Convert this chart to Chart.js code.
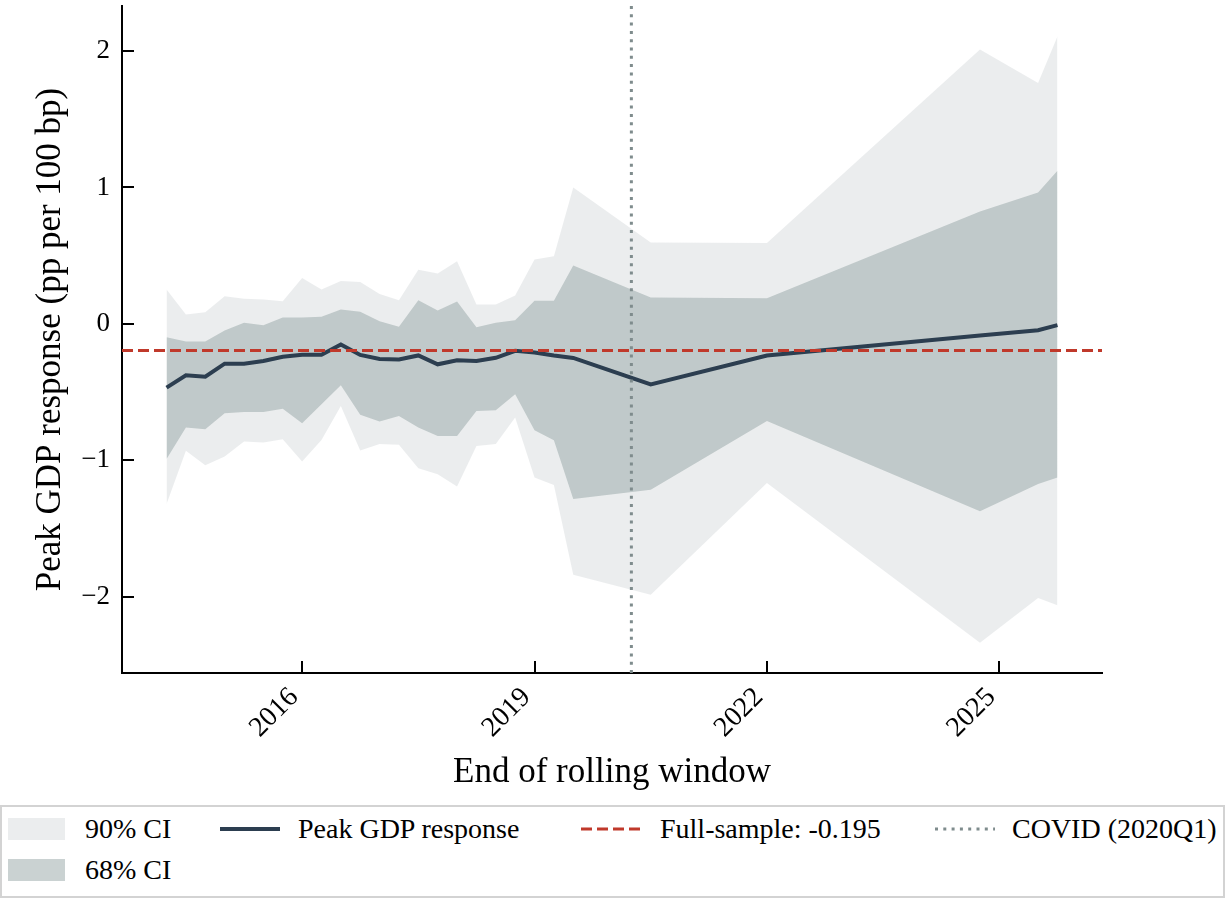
<!DOCTYPE html>
<html lang="en">
<head>
<meta charset="UTF-8">
<title>Peak GDP response over rolling windows</title>
<script src="https://cdn.jsdelivr.net/npm/chart.js"></script>
<style>
  body { margin: 0; background: #fff; font-family: 'Liberation Serif', 'DejaVu Serif', serif; }
  #wrap { position: relative; width: 1225px; height: 898px; overflow: hidden; }
  #chartBox { position: absolute; left: 0; top: 0; width: 1225px; height: 800px; }
  #legend { position: absolute; left: 0; top: 805px; width: 1225px; height: 93px;
            box-sizing: border-box; border: 2px solid #d3d3d3; background: #fff; }
  #legend .txt { position: absolute; font-size: 28px; line-height: 30px; color: #000; white-space: nowrap; }
  #legend .patch { position: absolute; width: 57px; height: 22px; }
  #legend svg { position: absolute; }
</style>
</head>
<body>
<div id="wrap">
  <div id="chartBox"><canvas id="rollChart"></canvas></div>

  <div id="legend">
    <div class="patch" style="left:6px;top:11px;background:rgba(189,195,199,0.3)"></div>
    <div class="txt" style="left:83px;top:7px">90% CI</div>
    <div class="patch" style="left:6px;top:52px;background:rgba(149,165,166,0.5)"></div>
    <div class="txt" style="left:83px;top:48px">68% CI</div>

    <svg width="60" height="10" style="left:218px;top:17px"><line x1="0" y1="5" x2="60" y2="5" stroke="#2c3e50" stroke-width="4"/></svg>
    <div class="txt" style="left:296px;top:7px">Peak GDP response</div>

    <svg width="60" height="10" style="left:579px;top:17px"><line x1="0" y1="5" x2="60" y2="5" stroke="#c0392b" stroke-width="3" stroke-dasharray="11 5"/></svg>
    <div class="txt" style="left:658px;top:7px">Full-sample: -0.195</div>

    <svg width="60" height="10" style="left:933px;top:17px"><line x1="0" y1="5" x2="60" y2="5" stroke="#7f8c8d" stroke-width="3" stroke-dasharray="3 5.3"/></svg>
    <div class="txt" style="left:1010px;top:7px">COVID (2020Q1)</div>
  </div>
</div>

<script>
  // window end quarters (irregular after 2019Q2)
  const quarters = [
    '2014Q1', '2014Q2', '2014Q3', '2014Q4', '2015Q1', '2015Q2', '2015Q3', '2015Q4',
    '2016Q1', '2016Q2', '2016Q3', '2016Q4', '2017Q1', '2017Q2', '2017Q3', '2017Q4',
    '2018Q1', '2018Q2', '2018Q3', '2018Q4', '2019Q1', '2019Q2',
    '2020Q2', '2021Q4', '2024Q3', '2025Q2', '2025Q3'
  ];

  // peak GDP response, pp per 100 bp
  const peak = [
    -0.468, -0.378, -0.388, -0.292, -0.292, -0.273, -0.241, -0.227,
    -0.227, -0.151, -0.228, -0.258, -0.261, -0.232, -0.297, -0.268,
    -0.273, -0.249, -0.198, -0.210, -0.233, -0.250,
    -0.444, -0.232, -0.085, -0.047, -0.010
  ];

  const ci68Hi = [
    -0.098, -0.129, -0.129, -0.049, 0.007, -0.010, 0.046, 0.046,
    0.051, 0.105, 0.088, 0.019, -0.022, 0.173, 0.097, 0.163,
    -0.025, 0.007, 0.026, 0.170, 0.170, 0.427,
    0.193, 0.187, 0.823, 0.962, 1.123
  ];
  const ci68Lo = [
    -0.992, -0.760, -0.773, -0.656, -0.646, -0.646, -0.622, -0.729,
    -0.590, -0.451, -0.667, -0.716, -0.675, -0.760, -0.822, -0.822,
    -0.639, -0.634, -0.517, -0.780, -0.853, -1.284,
    -1.216, -0.712, -1.374, -1.175, -1.126
  ];
  const ci90Hi = [
    0.251, 0.068, 0.085, 0.202, 0.183, 0.178, 0.165, 0.336,
    0.251, 0.314, 0.307, 0.219, 0.173, 0.397, 0.368, 0.458,
    0.141, 0.141, 0.207, 0.472, 0.496, 0.999,
    0.597, 0.592, 2.012, 1.766, 2.107
  ];
  const ci90Lo = [
    -1.321, -0.931, -1.036, -0.972, -0.863, -0.870, -0.846, -1.009,
    -0.851, -0.602, -0.928, -0.882, -0.887, -1.058, -1.102, -1.192,
    -0.895, -0.882, -0.687, -1.126, -1.182, -1.840,
    -1.986, -1.167, -2.339, -2.010, -2.064
  ];

  const fullSample = -0.195;
  const covidQuarter = '2020Q1';

  const xTicks = [2016, 2019, 2022, 2025];
  const yTicks = [-2, -1, 0, 1, 2];
  const xRange = [2013.675, 2026.325];
  const yRange = [-2.56, 2.33];

  // quarter label -> decimal year at end of quarter
  function qToYear(q) {
    return Number(q.slice(0, 4)) + Number(q.slice(5)) / 4;
  }

  const xs = quarters.map(qToYear);
  const toPts = arr => arr.map((v, i) => ({ x: xs[i], y: v }));

  Chart.defaults.font.family = "'Liberation Serif', 'DejaVu Serif', serif";
  Chart.defaults.color = '#000';

  // matplotlib-style ticks pointing into the plot
  const inwardTicks = {
    id: 'inwardTicks',
    afterDraw(chart) {
      const { ctx, chartArea: a, scales } = chart;
      const len = 12;
      ctx.save();
      ctx.strokeStyle = '#000';
      ctx.lineWidth = 2;
      ctx.beginPath();
      scales.x.ticks.forEach(t => {
        const px = Math.round(scales.x.getPixelForValue(t.value));
        ctx.moveTo(px, a.bottom);
        ctx.lineTo(px, a.bottom - len);
      });
      scales.y.ticks.forEach(t => {
        const py = Math.round(scales.y.getPixelForValue(t.value));
        ctx.moveTo(a.left, py);
        ctx.lineTo(a.left + len, py);
      });
      ctx.stroke();
      ctx.restore();
    }
  };

  const band = (data, color, fill, order) => ({
    data: toPts(data),
    fill: fill,
    backgroundColor: color,
    borderColor: 'transparent',
    borderWidth: 0,
    pointRadius: 0,
    tension: 0,
    order: order
  });

  const covidX = qToYear(covidQuarter);

  new Chart(document.getElementById('rollChart'), {
    type: 'line',
    data: {
      datasets: [
        band(ci90Hi, 'rgba(189,195,199,0.3)', '+1', 6),
        band(ci90Lo, 'rgba(189,195,199,0.3)', false, 6),
        band(ci68Hi, 'rgba(149,165,166,0.5)', '+1', 5),
        band(ci68Lo, 'rgba(149,165,166,0.5)', false, 5),
        {
          label: 'Peak GDP response',
          data: toPts(peak),
          borderColor: '#2c3e50',
          borderWidth: 4,
          pointRadius: 0,
          fill: false,
          tension: 0,
          order: 3
        },
        {
          label: 'Full-sample',
          data: [{ x: xRange[0], y: fullSample }, { x: xRange[1], y: fullSample }],
          borderColor: '#c0392b',
          borderWidth: 3,
          borderDash: [11, 5],
          pointRadius: 0,
          fill: false,
          order: 2
        },
        {
          label: 'COVID',
          data: [{ x: covidX, y: yRange[0] }, { x: covidX, y: yRange[1] }],
          borderColor: '#7f8c8d',
          borderWidth: 3,
          borderDash: [3, 5.3],
          pointRadius: 0,
          fill: false,
          order: 1
        }
      ]
    },
    options: {
      responsive: true,
      maintainAspectRatio: false,
      animation: false,
      events: [],
      layout: { padding: { left: 0, top: 6, right: 123, bottom: 0 } },
      plugins: {
        legend: { display: false },
        tooltip: { enabled: false }
      },
      scales: {
        x: {
          type: 'linear',
          min: xRange[0],
          max: xRange[1],
          afterBuildTicks: s => { s.ticks = xTicks.map(v => ({ value: v })); },
          afterFit: s => { s.height = 127; s.paddingLeft = 0; s.paddingRight = 0; },
          grid: { display: false, drawTicks: false },
          border: { display: true, color: '#000', width: 2 },
          ticks: {
            autoSkip: false,
            minRotation: 45,
            maxRotation: 45,
            padding: 8,
            labelOffset: -8,
            font: { size: 28 },
            callback: v => String(v)
          },
          title: {
            display: true,
            text: 'End of rolling window',
            font: { size: 35 },
            padding: { top: 0, bottom: 6 }
          }
        },
        y: {
          min: yRange[0],
          max: yRange[1],
          afterBuildTicks: s => { s.ticks = yTicks.map(v => ({ value: v })); },
          afterFit: s => { s.width = 122; s.paddingTop = 0; s.paddingBottom = 0; },
          grid: { display: false, drawTicks: false },
          border: { display: true, color: '#000', width: 2 },
          ticks: {
            padding: 12,
            font: { size: 27 },
            callback: v => (v < 0 ? '\u2212' + Math.abs(v) : String(v))
          },
          title: {
            display: true,
            text: 'Peak GDP response (pp per 100 bp)',
            font: { size: 35 },
            padding: { top: 30, bottom: 0 }
          }
        }
      }
    },
    plugins: [inwardTicks]
  });
</script>
</body>
</html>
